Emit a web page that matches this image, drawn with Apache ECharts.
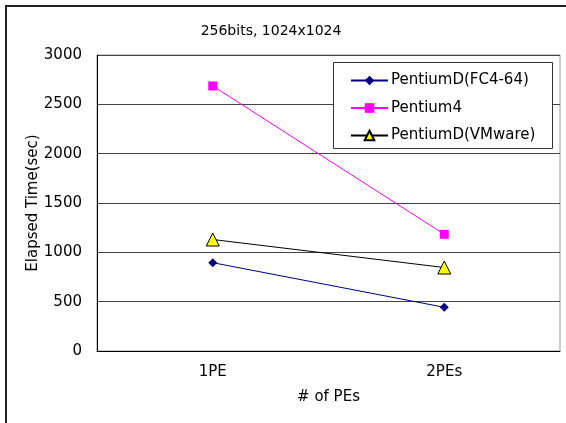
<!DOCTYPE html>
<html><head><meta charset="utf-8">
<script src="https://cdn.jsdelivr.net/npm/echarts@6/dist/echarts.min.js"></script>
<style>html,body{margin:0;padding:0;background:#fff}#c{width:566px;height:423px}</style>
</head><body><div id="c"></div>
<script>
var categories = ['1PE', '2PEs'];
var seriesNames = ['PentiumD(FC4-64)', 'Pentium4', 'PentiumD(VMware)'];
var fc4Values = [895, 443];
var p4Values = [2686, 1183];
var vmValues = [1130, 846];
var yTicks = [0, 500, 1000, 1500, 2000, 2500, 3000];

var FONT = '"DejaVu Sans", sans-serif';
var chart = echarts.init(document.getElementById('c'), null, {renderer: 'canvas'});
chart.setOption({
  animation: false,
  backgroundColor: '#fff',
  title: {
    text: '256bits, 1024x1024',
    left: 266, top: 19, textAlign: 'center',
    textStyle: {fontFamily: FONT, fontSize: 14, fontWeight: 'normal', color: '#000'}
  },
  grid: {left: 97, top: 55, width: 463, height: 296, show: true, borderColor: '#999', borderWidth: 1, backgroundColor: 'transparent'},
  graphic: [
    {type: 'rect', shape: {x: 6, y: 6, width: 700, height: 600}, style: {fill: null, stroke: '#222', lineWidth: 2}, z: 10, silent: true},
    {type: 'rect', shape: {x: 333.5, y: 62.5, width: 219, height: 86}, style: {fill: '#fff', stroke: '#333', lineWidth: 1}, z: 3, silent: true}
  ],
  legend: {
    orient: 'vertical',
    left: 333, top: 63,
    padding: [10, 10, 10, 17],
    itemWidth: 37, itemHeight: 12, itemGap: 12.5,
    data: seriesNames,
    textStyle: {fontFamily: FONT, fontSize: 15, color: '#000', padding: [0, 0, 0, -2]},
    z: 5
  },
  xAxis: {
    type: 'category', data: categories, boundaryGap: true,
    name: '# of PEs', nameLocation: 'middle', nameGap: 39,
    nameTextStyle: {fontFamily: FONT, fontSize: 15, color: '#000'},
    axisLine: {lineStyle: {color: '#000', width: 1}},
    axisTick: {inside: true, length: 5, lineStyle: {color: '#000'}},
    axisLabel: {fontFamily: FONT, fontSize: 15, color: '#000', margin: 14},
    splitLine: {show: false}
  },
  yAxis: {
    type: 'value', min: yTicks[0], max: yTicks[yTicks.length - 1], interval: yTicks[1] - yTicks[0],
    name: 'Elapsed Time(sec)', nameLocation: 'middle', nameGap: 56, nameMoveOverlap: false,
    nameTextStyle: {fontFamily: FONT, fontSize: 15, color: '#000'},
    axisLine: {show: true, lineStyle: {color: '#000', width: 1}},
    axisTick: {show: false},
    axisLabel: {fontFamily: FONT, fontSize: 15, color: '#000', margin: 15, formatter: function (v) { return String(v); }},
    splitLine: {show: true, lineStyle: {color: '#444', width: 1}}
  },
  series: [
    {name: seriesNames[0], type: 'line', data: fc4Values, symbol: 'diamond', symbolSize: 9,
      lineStyle: {color: '#000080', width: 1}, itemStyle: {color: '#000080'}, z: 3},
    {name: seriesNames[1], type: 'line', data: p4Values, symbol: 'rect', symbolSize: 9,
      lineStyle: {color: '#FF00FF', width: 1}, itemStyle: {color: '#FF00FF'}, z: 3},
    {name: seriesNames[2], type: 'line', data: vmValues, symbol: 'triangle', symbolSize: 13,
      lineStyle: {color: '#000', width: 1}, itemStyle: {color: '#FFFF00', borderColor: '#000', borderWidth: 1}, z: 3}
  ]
});
</script></body></html>
